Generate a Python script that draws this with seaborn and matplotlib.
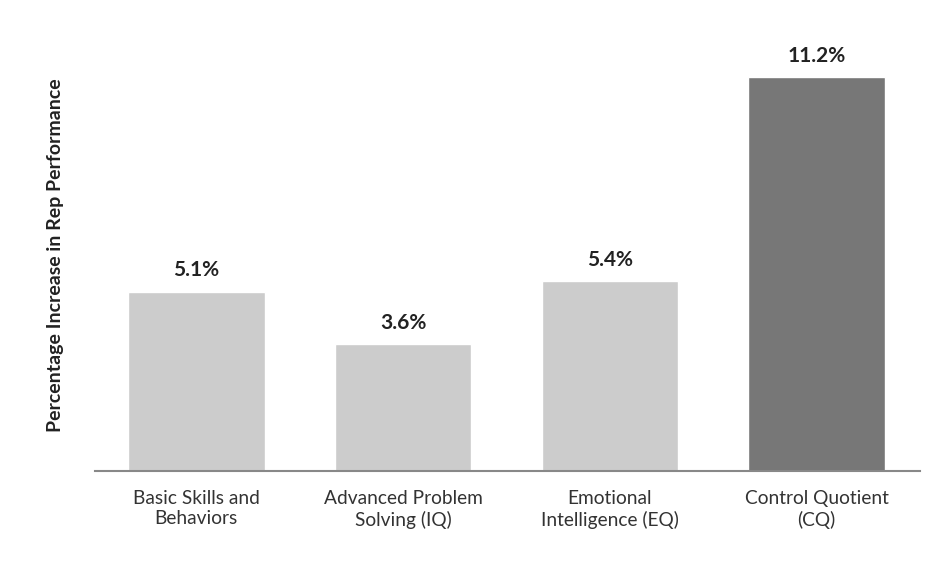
import matplotlib.pyplot as plt
import pandas as pd
import seaborn as sns

# Data
categories = ['Basic Skills and\nBehaviors', 'Advanced Problem\nSolving (IQ)',
              'Emotional\nIntelligence (EQ)', 'Control Quotient\n(CQ)']
values = [5.1, 3.6, 5.4, 11.2]
bar_colors = ['#cccccc', '#cccccc', '#cccccc', '#777777']

df = pd.DataFrame({'category': categories, 'value': values})

sns.set_style('white')
plt.rcParams['font.family'] = ['Lato', 'DejaVu Sans']

fig = plt.figure(figsize=(9.51, 5.74), dpi=100)
ax = fig.add_axes([0.0999, 0.1794, 0.8675, 0.7509])
sns.barplot(data=df, x='category', y='value', hue='category', palette=bar_colors,
            legend=False, width=0.66, saturation=1, ax=ax)

for i, v in enumerate(values):
    ax.annotate(f'{v}%', (i, v), xytext=(0, 8), textcoords='offset points',
                ha='center', va='bottom', fontsize=15, fontweight='bold', color='#222222')

ax.set_xlim(-0.49, 3.5)
ax.set_ylim(0, 12.25)
ax.set_yticks([])
ax.set_xlabel('')
ax.set_ylabel('Percentage Increase in Rep Performance', fontsize=14,
              fontweight='bold', color='#222222', labelpad=22)
ax.tick_params(axis='x', length=0, pad=14, labelsize=13.8, labelcolor='#333333')
sns.despine(ax=ax, left=True)
ax.spines['bottom'].set_color('#888888')
ax.spines['bottom'].set_linewidth(1.5)

fig.savefig('out.png', dpi=100)
